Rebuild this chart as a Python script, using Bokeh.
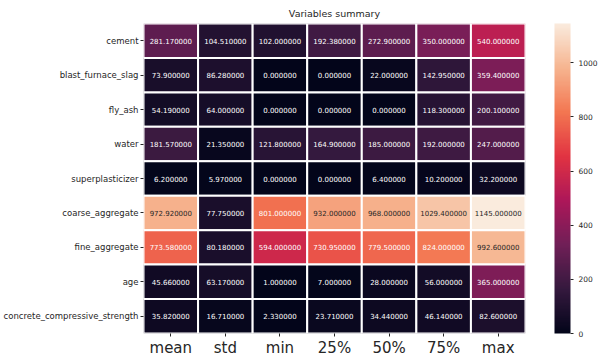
from bokeh.plotting import figure
from bokeh.models import ColumnDataSource, LinearColorMapper, ColorBar, FixedTicker, Title
from bokeh.embed import file_html
from bokeh.resources import INLINE
from bokeh.core.properties import value

variables = ["cement", "blast_furnace_slag", "fly_ash", "water", "superplasticizer",
             "coarse_aggregate", "fine_aggregate", "age", "concrete_compressive_strength"]
stats = ["mean", "std", "min", "25%", "50%", "75%", "max"]

mean = [281.17, 73.90, 54.19, 181.57, 6.20, 972.92, 773.58, 45.66, 35.82]
std = [104.51, 86.28, 64.00, 21.35, 5.97, 77.75, 80.18, 63.17, 16.71]
vmin = [102.0, 0.0, 0.0, 121.8, 0.0, 801.0, 594.0, 1.0, 2.33]
q25 = [192.38, 0.0, 0.0, 164.9, 0.0, 932.0, 730.95, 7.0, 23.71]
q50 = [272.9, 22.0, 0.0, 185.0, 6.4, 968.0, 779.5, 28.0, 34.44]
q75 = [350.0, 142.95, 118.3, 192.0, 10.2, 1029.4, 824.0, 56.0, 46.14]
vmax = [540.0, 359.4, 200.1, 247.0, 32.2, 1145.0, 992.6, 365.0, 82.6]
columns = [mean, std, vmin, q25, q50, q75, vmax]
cbar_ticks = [0, 200, 400, 600, 800, 1000]

# approximate seaborn "rocket" colormap anchors
anchors = [(0.0, "#03051a"), (1/7, "#35193e"), (2/7, "#701f57"), (3/7, "#ad1759"),
           (4/7, "#e13342"), (5/7, "#f37651"), (6/7, "#f6b48f"), (1.0, "#faebdd")]

def hex2rgb(h):
    return tuple(int(h[i:i+2], 16) for i in (1, 3, 5))

def interp(t):
    for (t0, c0), (t1, c1) in zip(anchors[:-1], anchors[1:]):
        if t0 <= t <= t1:
            f = (t - t0) / (t1 - t0)
            a, b = hex2rgb(c0), hex2rgb(c1)
            return tuple(round(a[k] + (b[k] - a[k]) * f) for k in range(3))
    return hex2rgb(anchors[-1][1])

palette = ["#%02x%02x%02x" % interp(i / 255) for i in range(256)]

lo = 0.0
hi = max(max(c) for c in columns)

def lum(rgb):
    vals = []
    for c in rgb:
        c = c / 255
        vals.append(c / 12.92 if c <= 0.03928 else ((c + 0.055) / 1.055) ** 2.4)
    return 0.2126 * vals[0] + 0.7152 * vals[1] + 0.0722 * vals[2]

xs, ys, vs, labels, tcolors = [], [], [], [], []
for s, col in zip(stats, columns):
    for var, v in zip(variables, col):
        xs.append(s)
        ys.append(var)
        vs.append(v)
        labels.append(f"{v:f}")
        idx = min(255, int((v - lo) / (hi - lo) * 256))
        tcolors.append("#262626" if lum(interp(idx / 255)) > 0.408 else "#ffffff")

src = ColumnDataSource(dict(x=xs, y=ys, v=vs, label=labels, tc=tcolors))

mapper = LinearColorMapper(palette=palette, low=lo, high=hi)

p = figure(x_range=stats, y_range=list(reversed(variables)),
           frame_width=382, frame_height=310,
           output_backend="svg", toolbar_location=None,
           min_border_left=139, min_border_top=20, min_border_bottom=5, min_border_right=5,
           title="Variables summary")
p.title.align = "center"
p.title.text_font = "DejaVu Sans"
p.title.text_font_size = "9.5px"
p.title.text_font_style = "normal"
p.title.text_color = "#262626"
p.title.offset = 0

p.rect(x="x", y="y", width=1, height=1, source=src,
       fill_color={"field": "v", "transform": mapper},
       line_color="white", line_width=2)
p.text(x="x", y="y", text="label", source=src, text_color="tc",
       text_align="center", text_baseline="middle",
       text_font=value("DejaVu Sans"), text_font_size="7px")

p.grid.visible = False
p.outline_line_color = None
p.background_fill_color = "white"

for ax in (p.xaxis, p.yaxis):
    ax.axis_line_color = None
    ax.major_tick_line_color = "#262626"
    ax.major_tick_in = 0
    ax.major_tick_out = 3
    ax.minor_tick_line_color = None
    ax.major_label_text_font = "DejaVu Sans"
    ax.major_label_text_color = "#262626"
    ax.major_label_standoff = 2
p.xaxis.major_label_text_font_size = "15px"
p.yaxis.major_label_text_font_size = "8.5px"

# blank spacer between heatmap and colour bar
p.add_layout(Title(text=" ", text_font_size="24px", standoff=0, offset=0), "right")

cb = ColorBar(color_mapper=mapper, ticker=FixedTicker(ticks=cbar_ticks),
              width=16, padding=0, margin=0,
              major_label_text_font="DejaVu Sans", major_label_text_font_size="7.5px",
              major_label_text_color="#262626",
              major_tick_line_color="#262626", major_tick_in=0, major_tick_out=3,
              bar_line_color=None, border_line_color=None, background_fill_color=None)
p.add_layout(cb, "right")

open("out.html", "w").write(file_html(p, INLINE))
